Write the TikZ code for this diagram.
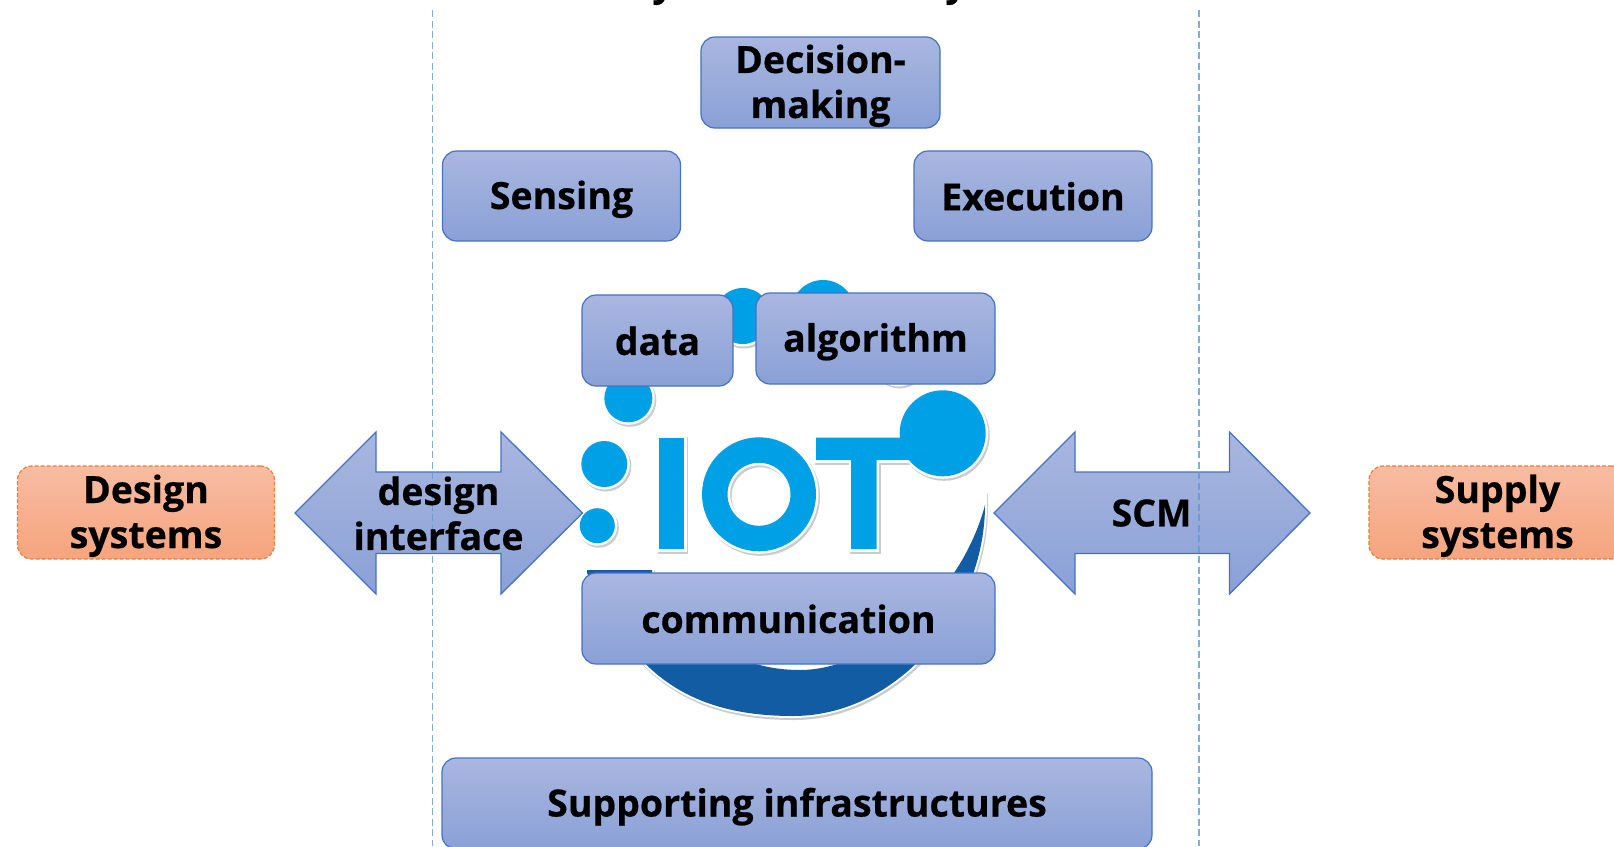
\documentclass[tikz,border=0pt]{standalone}
\usepackage{fontspec}
\setmainfont{Open Sans}[BoldFeatures={FakeBold=0.5}]
\definecolor{boxtop}{HTML}{A9B7E0}
\definecolor{boxbot}{HTML}{8AA0D6}
\definecolor{boxline}{HTML}{4472C4}
\definecolor{ortop}{HTML}{F7BCA2}
\definecolor{orbot}{HTML}{F5A47E}
\definecolor{orline}{HTML}{ED7D31}
\definecolor{guide}{HTML}{5B9BD5}
\definecolor{logoblue}{HTML}{00A0E6}
\definecolor{logodark}{HTML}{125CA3}
\newcommand{\lnst}{\rule[-6.2pt]{0pt}{41.2pt}}
\tikzset{
  x=1pt,y=-1pt,
  lab/.style={font=\fontsize{37.5}{45}\selectfont\bfseries,text=black,align=center,inner sep=0pt},
  bluebox/.style={lab,draw=boxline,line width=1.2pt,rounded corners=14pt,top color=boxtop,bottom color=boxbot,middle color=boxtop!50!boxbot},
  orangebox/.style={lab,draw=orline,dash pattern=on 4pt off 2pt,line width=1.2pt,rounded corners=14pt,top color=ortop,bottom color=orbot,middle color=ortop!50!orbot},
  bigarrow/.style={draw=boxline,line width=1.3pt,top color=boxtop,bottom color=boxbot,middle color=boxtop!50!boxbot},
  guideline/.style={draw=guide,dash pattern=on 7pt off 3.5pt,line width=1.4pt,opacity=.8},
  logoshadow/.style={draw=black!45,fill=black!45,line width=5pt,opacity=.45,shift={(1.5,2)},even odd rule},
  logoedge/.style={draw=white,fill=white,line width=5pt,even odd rule},
  logofill/.style={fill=logoblue,draw=none,even odd rule},
  darkshadow/.style={draw=black!45,fill=black!45,line width=4pt,opacity=.45,shift={(1,2)}},
  darkedge/.style={draw=white,fill=white,line width=4pt},
  darkfill/.style={fill=logodark,draw=none}
}
\begin{document}
\begin{tikzpicture}
\useasboundingbox (0,0) rectangle (1614,846);
\clip (0,0) rectangle (1614,846);
\fill[white] (0,0) rectangle (1614,846);
% clipped title descenders
\node[lab,anchor=base] (titleA) at (663,-4) {y};
\node[lab,anchor=base] (titleB) at (956,-4) {y};
% guides
\coordinate (g1t) at (432.5,10); \coordinate (g1b) at (432.5,846);
\coordinate (g2t) at (1199,10);  \coordinate (g2b) at (1199,846);
% logo swoosh
\foreach \s in {darkshadow,darkedge,darkfill}{
  \path[\s] (985,505) .. controls (985,610) and (900,716) .. (793,716)
     .. controls (720,716) and (665,695) .. (625,640) -- (587,573) -- (587,570) -- (652,570) -- (652,573)
     .. controls (690,640) and (740,670) .. (800,670)
     .. controls (870,670) and (960,600) .. (985,505) -- cycle;
}
% logo blue parts
\foreach \s in {logoshadow,logoedge,logofill}{
  \path[\s] (742.7,316) circle[radius=28];
  \path[\s] (823,312) circle[radius=32];
  \path[\s] (898,360) circle[radius=24];
  \path[\s] (628.3,398.3) circle[radius=24];
  \path[\s] (604.3,464) circle[radius=23];
  \path[\s] (597.3,525.7) circle[radius=17.5];
  \path[\s] (942.7,433.3) circle[radius=43];
  \path[\s] (659.3,437.7) rectangle (684,549);
  \path[\s] (759,494.3) circle[radius=57] (759,494.3) circle[radius=31.5];
  \path[\s] (816,437.7) -- (920,437.7) -- (920,460) -- (876.7,460) -- (876.7,549) -- (851,549) -- (851,460) -- (816,460) -- cycle;
}
% double arrows
\path[bigarrow] (295,513) -- (376,432) -- (376,472) -- (501,472) -- (501,432) -- (582.5,513) -- (501,594) -- (501,553.5) -- (376,553.5) -- (376,594) -- cycle;
\path[bigarrow] (994,513) -- (1075,432) -- (1075,472) -- (1229.5,472) -- (1229.5,432) -- (1310,513) -- (1229.5,594) -- (1229.5,553.5) -- (1075,553.5) -- (1075,594) -- cycle;
\draw[guideline] (g1t) -- (g1b);
\draw[guideline] (g2t) -- (g2b);
% boxes
\node[bluebox,minimum width=239pt,minimum height=91pt] (decision) at (820.5,82.5) {\lnst Decision-\\\lnst making};
\node[bluebox,minimum width=238pt,minimum height=90pt] (sensing) at (561.5,196) {\lnst Sensing};
\node[bluebox,minimum width=238pt,minimum height=90pt] (execution) at (1033,196) {\lnst Execution};
\node[bluebox,minimum width=151pt,minimum height=91pt] (data) at (657.5,340.5) {\lnst data};
\node[bluebox,minimum width=239pt,minimum height=91pt] (algorithm) at (875.5,338.5) {\lnst algorithm};
\node[bluebox,minimum width=413pt,minimum height=91pt] (communication) at (788.5,618.5) {\lnst communication};
\node[bluebox,minimum width=710pt,minimum height=91pt] (support) at (797,803.5) {\lnst Supporting infrastructures};
\node[orangebox,minimum width=257pt,minimum height=93pt] (design) at (146,512.5) {\lnst Design\\\lnst systems};
\node[orangebox,minimum width=257pt,minimum height=93pt] (supply) at (1497.5,512.5) {\lnst Supply\\\lnst systems};
% arrow labels
\node[lab] (iface) at (438.5,513) {\lnst design\\\lnst interface};
\node[lab] (scm) at (1151.5,512) {\lnst SCM};
\end{tikzpicture}
\end{document}
